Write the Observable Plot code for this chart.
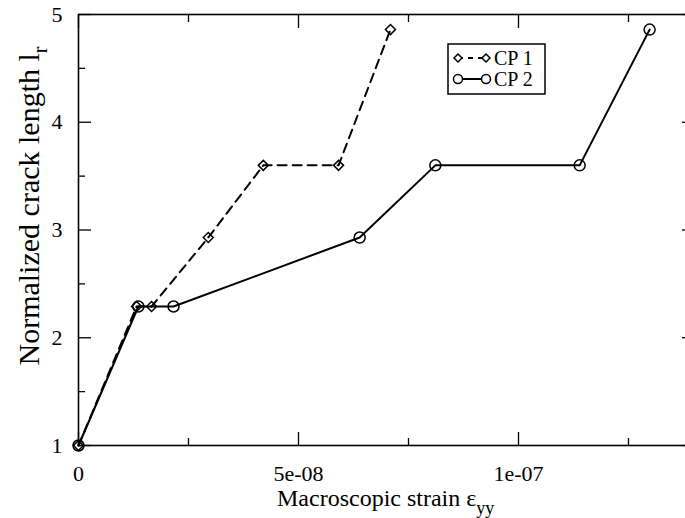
<!DOCTYPE html>
<html><head><meta charset="utf-8">
<script src="https://cdn.jsdelivr.net/npm/d3@7"></script>
<script src="https://cdn.jsdelivr.net/npm/@observablehq/plot@0.6"></script>
<style>
body{margin:0;background:#fff}
svg{display:block}
</style>
</head><body><div id="chart"></div>
<script>
// Data
const cp1Strain = [0, 13.2e-9, 16.6e-9, 29.5e-9, 42.0e-9, 59.1e-9, 70.9e-9];
const cp1Length = [1, 2.29, 2.29, 2.93, 3.60, 3.60, 4.86];
const cp2Strain = [0, 13.6e-9, 21.6e-9, 63.9e-9, 81.1e-9, 113.9e-9, 129.8e-9];
const cp2Length = [1, 2.29, 2.29, 2.93, 3.60, 3.60, 4.86];
const seriesNames = ["CP 1", "CP 2"];
const xMajorTicks = [0, 5e-8, 1e-7];
const xTickLabels = ["0", "5e-08", "1e-07"];
const xMinorTicks = [2.5e-8, 7.5e-8, 1.25e-7];
const yMajorTicks = [1, 2, 3, 4, 5];
const yTickLabels = ["1", "2", "3", "4", "5"];
const yMinorTicks = [1.5, 2.5, 3.5, 4.5];

const cp1 = cp1Strain.map((x, i) => ({x, y: cp1Length[i]}));
const cp2 = cp2Strain.map((x, i) => ({x, y: cp2Length[i]}));

const font = "'Liberation Serif', 'Times New Roman', serif";
const noText = () => "";

const plot = Plot.plot({
  width: 685,
  height: 518,
  marginLeft: 78,
  marginRight: -9,
  marginTop: 14,
  marginBottom: 73,
  style: {fontFamily: font, background: "white", color: "black"},
  x: {domain: [0, 1.4e-7]},
  y: {domain: [1, 5]},
  marks: [
    Plot.frame({stroke: "black", strokeWidth: 1.6}),
    // major/minor inward ticks
    Plot.axisX(xMajorTicks, {anchor: "bottom", tickSize: -13, tickFormat: noText, label: null, strokeWidth: 1.3}),
    Plot.axisX(xMinorTicks, {anchor: "bottom", tickSize: -7, tickFormat: noText, label: null, strokeWidth: 1.3}),
    Plot.axisX(xMajorTicks, {anchor: "top", tickSize: -13, tickFormat: noText, label: null, strokeWidth: 1.3}),
    Plot.axisX(xMinorTicks, {anchor: "top", tickSize: -7, tickFormat: noText, label: null, strokeWidth: 1.3}),
    Plot.axisY(yMajorTicks, {anchor: "left", tickSize: -13, tickFormat: noText, label: null, strokeWidth: 1.3}),
    Plot.axisY(yMinorTicks, {anchor: "left", tickSize: -7, tickFormat: noText, label: null, strokeWidth: 1.3}),
    Plot.axisY(yMajorTicks, {anchor: "right", tickSize: -13, tickFormat: noText, label: null, strokeWidth: 1.3}),
    Plot.axisY(yMinorTicks, {anchor: "right", tickSize: -7, tickFormat: noText, label: null, strokeWidth: 1.3}),
    // labels
    Plot.axisX(xMajorTicks, {anchor: "bottom", tickSize: 0, tickPadding: 16, dy: 4, tickFormat: (d, i) => xTickLabels[i], label: null, fontSize: 22, fill: "black"}),
    Plot.axisY(yMajorTicks, {anchor: "left", tickSize: 0, tickPadding: 16, tickFormat: (d, i) => yTickLabels[i], label: null, fontSize: 22, fill: "black"}),
    // series
    Plot.line(cp2, {x: "x", y: "y", stroke: "black", strokeWidth: 2}),
    Plot.dot(cp2, {x: "x", y: "y", r: 5.5, stroke: "black", strokeWidth: 1.5, fill: "none"}),
    Plot.line(cp1, {x: "x", y: "y", stroke: "black", strokeWidth: 2, strokeDasharray: "9,6"}),
    Plot.dot(cp1, {x: "x", y: "y", symbol: "diamond2", r: 4.5, stroke: "black", strokeWidth: 1.5, fill: "none"})
  ]
});

document.getElementById("chart").appendChild(plot);

const svg = d3.select(plot);
// Serif font and size on the tick labels
svg.selectAll("text")
  .style("font-family", font)
  .style("font-size", "22px")
  .style("fill", "black");

// Axis titles
const xt = svg.append("text")
  .attr("x", 277).attr("y", 506).attr("text-anchor", "start")
  .style("font-family", font).style("font-size", "24px").attr("fill", "black");
xt.append("tspan").text("Macroscopic strain \u03B5");
xt.append("tspan").attr("dy", 8).style("font-size", "18px").text("yy");

const yt = svg.append("text")
  .attr("transform", "translate(39,206) rotate(-90)")
  .attr("text-anchor", "middle")
  .style("font-family", font).style("font-size", "30px").attr("fill", "black");
yt.append("tspan").text("Normalized crack length l");
yt.append("tspan").attr("dy", 8).style("font-size", "20px").text("r");

// Legend
const lg = svg.append("g");
lg.append("rect").attr("x", 448).attr("y", 44).attr("width", 97).attr("height", 50)
  .attr("fill", "white").attr("stroke", "black").attr("stroke-width", 1.5);
const rows = [{y: 58, dash: "5,5", sym: "diamond"}, {y: 79, dash: null, sym: "circle"}];
rows.forEach((r, i) => {
  lg.append("line").attr("x1", 458).attr("x2", 486).attr("y1", r.y).attr("y2", r.y)
    .attr("stroke", "black").attr("stroke-width", 2).attr("stroke-dasharray", r.dash);
  [458, 486].forEach(cx => {
    if (r.sym === "circle") {
      lg.append("circle").attr("cx", cx).attr("cy", r.y).attr("r", 4.5)
        .attr("fill", "white").attr("stroke", "black").attr("stroke-width", 1.5);
    } else {
      lg.append("path").attr("d", `M${cx},${r.y - 4}L${cx + 4},${r.y}L${cx},${r.y + 4}L${cx - 4},${r.y}Z`)
        .attr("fill", "white").attr("stroke", "black").attr("stroke-width", 1.5);
    }
  });
  lg.append("text").attr("x", 494).attr("y", r.y + 7).attr("text-anchor", "start")
    .style("font-family", font).style("font-size", "20px").attr("fill", "black").text(seriesNames[i]);
});
</script>
</body></html>
